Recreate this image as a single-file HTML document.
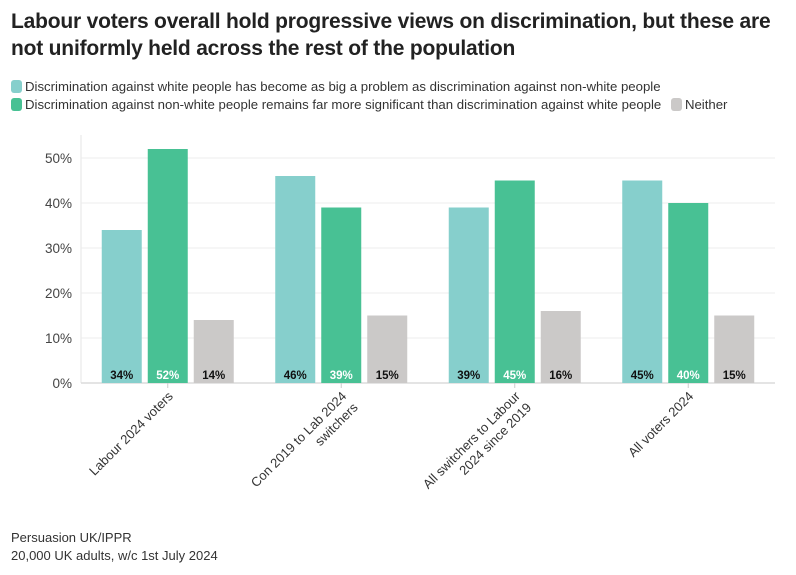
<!DOCTYPE html>
<html><head><meta charset="utf-8"><style>
body{margin:0;background:#fff;font-family:"Liberation Sans",sans-serif;color:#222}
#wrap{position:relative;width:796px;height:575px;overflow:hidden}
h1{position:absolute;left:11px;top:8px;margin:0;font-size:21px;line-height:27px;font-weight:bold;color:#222;letter-spacing:-0.2px}
.leg{position:absolute;left:11px;font-size:13.2px;color:#333;white-space:nowrap}
.sw{display:inline-block;width:11px;height:13px;border-radius:3px;vertical-align:-2px;margin-right:3px}
.foot{position:absolute;left:11px;font-size:13px;color:#333}
</style></head><body><div id="wrap">
<h1>Labour voters overall hold progressive views on discrimination, but these are<br>not uniformly held across the rest of the population</h1>
<div class="leg" style="top:79px"><span class="sw" style="background:#86cfcc"></span>Discrimination against white people has become as big a problem as discrimination against non-white people</div>
<div class="leg" style="top:97px"><span class="sw" style="background:#48c194"></span>Discrimination against non-white people remains far more significant than discrimination against white people <span style="margin-left:6px"><span class="sw" style="background:#cbc9c8"></span>Neither</span></div>
<svg id="chart" width="796" height="575" style="position:absolute;left:0;top:0"></svg>
<div class="foot" style="top:530px">Persuasion UK/IPPR</div>
<div class="foot" style="top:548px">20,000 UK adults, w/c 1st July 2024</div>
</div>
<script>
const categories=[["Labour 2024 voters"],["Con 2019 to Lab 2024","switchers"],["All switchers to Labour","2024 since 2019"],["All voters 2024"]];
const seriesWhite=[34,46,39,45];
const seriesNonWhite=[52,39,45,40];
const seriesNeither=[14,15,16,15];
const yTicks=[0,10,20,30,40,50];
const NS="http://www.w3.org/2000/svg";
const svg=document.getElementById("chart");
const x0=81,x1=775,y0=383,pxPer=4.5;
const y=v=>y0-v*pxPer;
const step=(x1-x0)/categories.length;
const cx=i=>x0+step*(i+0.5);
function mk(t,a){const e=document.createElementNS(NS,t);for(const k in a)e.setAttribute(k,a[k]);svg.appendChild(e);return e;}
let ax=mk("line",{x1:x0,x2:x0,y1:135,y2:y0,stroke:"#e4e4e4"});


yTicks.forEach(t=>{
  const g=mk("line",{x1:x0,x2:x1,y1:y(t),y2:y(t),stroke:t===0?"#dcdcdc":"#ececec","stroke-width":t===0?1.5:1});
  
  
  const l=mk("text",{x:x0-9,y:y(t)+5,"text-anchor":"end","font-size":"13.5","fill":"#444","font-family":"Liberation Sans, sans-serif"});
  l.textContent=t+"%";
  
  
});
const series=[[seriesWhite,"#86cfcc","#111"],[seriesNonWhite,"#48c194","#fff"],[seriesNeither,"#cbc9c8","#111"]];
const bw=40,gap=6;
categories.forEach((c,i)=>{
  series.forEach((s,j)=>{
    const bx=cx(i)+(j-1)*(bw+gap)-bw/2;
    const v=s[0][i];
    const r=mk("rect",{x:bx,y:y(v),width:bw,height:y0-y(v),fill:s[1]});
    
    
    const t=mk("text",{x:bx+bw/2,y:y0-4,"text-anchor":"middle","font-size":"11.5","font-weight":"bold",fill:s[2],"font-family":"Liberation Sans, sans-serif"});
    t.textContent=v+"%";
    
    
  });
  const tk=mk("line",{x1:cx(i),x2:cx(i),y1:y0,y2:y0+5,stroke:"#ccc"});
  
  
  const t=mk("text",{transform:`translate(${cx(i)+6},${y0+14}) rotate(-45)`,"text-anchor":"end","font-size":"13","fill":"#333","font-family":"Liberation Sans, sans-serif"});
  
  
  c.forEach((line,k)=>{
    const ts=document.createElementNS(NS,"tspan");
    ts.setAttribute("x",0);
    ts.setAttribute("y",k*16);
    ts.textContent=line;t.appendChild(ts);
  });
});
</script></body></html>
